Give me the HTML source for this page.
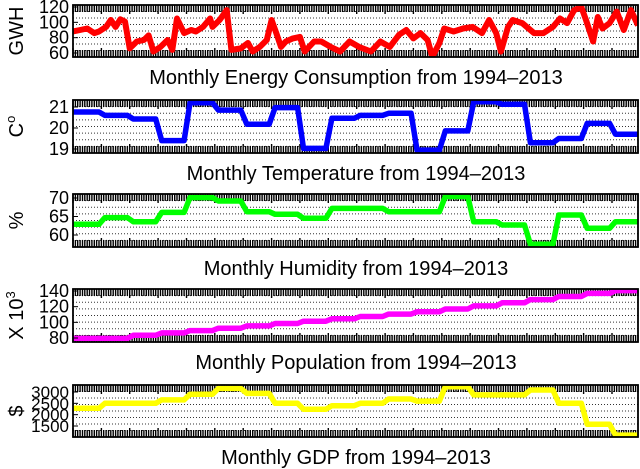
<!DOCTYPE html>
<html><head><meta charset="utf-8">
<style>
body{margin:0;background:#fff;}
svg{display:block;font-family:"Liberation Sans",sans-serif;}
</style></head>
<body>
<svg id="chart" width="640" height="469" viewBox="0 0 640 469"></svg>
<script>
const months = 240;
const energyMonths = [0,3,6,9,11,14,16,18,20,22,24,27,30,32,34,37,40,42,44,47,50,52,55,58,59,62,65,67,71,74,76,79,82,84,86,88,90,93,96,98,102,105,109,113,117,121,126,130,134,138,141,144,147,150,152,155,157,161,165,169,173,176,179,181,184,186,190,195,199,203,206,209,212,215,217,220,222,224,227,230,233,236,239];
const energyValues = [88,90,92,86,88,94,103,94,104,101,66,75,77,83,62,68,77,64,105,86,90,88,94,105,94,103,116,64,66,73,62,68,77,103,86,68,75,79,81,62,75,75,68,62,75,68,62,75,68,84,90,79,86,77,55,73,92,88,92,94,86,103,86,62,94,103,99,86,86,94,105,99,116,120,103,75,107,92,99,114,90,116,96];
const tempValues = [20.76,20.6,20.43,19.4,21.2,20.85,20.18,20.97,19.03,20.46,20.6,20.7,18.95,19.86,21.25,21.13,19.3,19.5,20.22,19.7];
const humidityValues = [62.9,64.7,63.6,66.1,70.1,69.2,66.3,65.6,64.5,67.2,67.2,66.3,66.3,70.4,63.6,62.7,57.5,65.4,61.8,63.6];
const populationValues = [79.5,79.5,83.5,86.5,89.5,92.5,95.5,98.5,101.5,104.5,107.5,110.5,113.5,117,121,125,129,133,137,140.5];
const gdpValues = [2280,2500,2500,2650,2900,3160,2940,2500,2237,2395,2500,2690,2600,3235,2870,2870,3090,2500,1575,1100];
const energyTicks = [60,80,100,120];
const tempTicks = [19,20,21];
const humidityTicks = [60,65,70];
const populationTicks = [80,100,120,140];
const gdpTicks = [1500,2000,2500,3000];

const NS="http://www.w3.org/2000/svg";
const svg=document.getElementById('chart');
function el(tag,attrs,parent){const e=document.createElementNS(NS,tag);for(const k in attrs)e.setAttribute(k,attrs[k]);(parent||svg).appendChild(e);return e;}
const X0=73,X1=638;
function xScale(m){return X0+(m/(months-1))*(X1-X0);}

function panel(cfg){
  const g=el('g',{});
  
  
  const y=v=>cfg.yAt1+(v-cfg.v1)*(cfg.yAt2-cfg.yAt1)/(cfg.v2-cfg.v1);
  const nG=8;
  for(let i=1;i<nG;i++){
    const yy=cfg.top+(cfg.bot-cfg.top)*i/nG;
    const gl=el('line',{x1:X0,x2:X1,y1:yy,y2:yy,stroke:'#333','stroke-width':1,'stroke-dasharray':'1,2'},g);
    
    
  }
  let d='';
  for(let m=0;m<months;m++){const xx=xScale(m).toFixed(1);const h=(m%12===0)?9:7;
    d+=`M${xx} ${cfg.top}v${h}M${xx} ${cfg.bot}v-${h}`;}
  const tk=el('path',{d:d,stroke:'#000','stroke-width':1.4,fill:'none'},g);
  
  
  let pd='';
  if(cfg.monthsArr){
    cfg.monthsArr.forEach((m,i)=>{pd+=(i?'L':'M')+xScale(m).toFixed(1)+' '+y(cfg.values[i]).toFixed(1);});
  } else {
    const n=cfg.values.length, per=months/n;
    cfg.values.forEach((v,i)=>{
      const a=i*per+(i?1.5:0), b=Math.min((i+1)*per-1,months-1);
      pd+=(i?'L':'M')+xScale(a).toFixed(1)+' '+y(v).toFixed(1)+'L'+xScale(b).toFixed(1)+' '+y(v).toFixed(1);
    });
  }
  const cp=el('clipPath',{id:'c'+cfg.name},g);
  el('rect',{x:X0,y:cfg.top,width:X1-X0,height:cfg.bot-cfg.top},cp);
  const ln=el('path',{d:pd,stroke:cfg.color,'stroke-width':cfg.lw||5.5,fill:'none','stroke-linejoin':'round','clip-path':`url(#c${cfg.name})`},g);
  
  
  const fr=el('rect',{x:X0,y:cfg.top,width:X1-X0,height:cfg.bot-cfg.top,fill:'none',stroke:'#000','stroke-width':1.8},g);
  
  
  cfg.ticks.forEach(t=>{
    const yy=y(t);
    const tl=el('line',{x1:X0,x2:X0+5,y1:yy,y2:yy,stroke:'#000','stroke-width':1},g);
    
    
    const tx=el('text',{x:69,y:yy+6,'text-anchor':'end','font-size':cfg.fs||18},g);
    tx.textContent=t;
    
    
  });
  const ylab=el('text',{transform:`translate(${cfg.labX||23},${(cfg.top+cfg.bot)/2}) rotate(-90)`,'text-anchor':'middle','font-size':20},g);
  ylab.innerHTML=cfg.ylabel;
  
  
  const tt=el('text',{x:356,y:cfg.titleY,'text-anchor':'middle','font-size':20},g);
  tt.textContent=cfg.title;
  
  
}
panel({name:'energy',top:5,bot:57,yAt1:53,v1:60,yAt2:7,v2:120,ticks:energyTicks,values:energyValues,monthsArr:energyMonths,color:'#ff0000',lw:6,ylabel:'GWH',title:'Monthly Energy Consumption from 1994\u20132013',titleY:84});
panel({name:'temperature',top:100,bot:153,yAt1:149,v1:19,yAt2:107,v2:21,ticks:tempTicks,values:tempValues,color:'#0000ff',ylabel:'C<tspan dy="-8" font-size="13">o</tspan>',title:'Monthly Temperature from 1994\u20132013',titleY:180});
panel({name:'humidity',top:194,bot:247,yAt1:235,v1:60,yAt2:198,v2:70,ticks:humidityTicks,values:humidityValues,color:'#00ff00',ylabel:'%',title:'Monthly Humidity from 1994\u20132013',titleY:275});
panel({name:'population',top:289,bot:342,yAt1:338,v1:80,yAt2:291,v2:140,ticks:populationTicks,values:populationValues,color:'#ff00ff',ylabel:'X 10<tspan dy="-8" font-size="13">3</tspan>',title:'Monthly Population from 1994\u20132013',titleY:369});
panel({name:'gdp',top:385,bot:437,yAt1:426,v1:1500,yAt2:392,v2:3000,ticks:gdpTicks,values:gdpValues,color:'#ffff00',ylabel:'$',title:'Monthly GDP from 1994\u20132013',titleY:464,fs:17});
</script>
</body></html>
